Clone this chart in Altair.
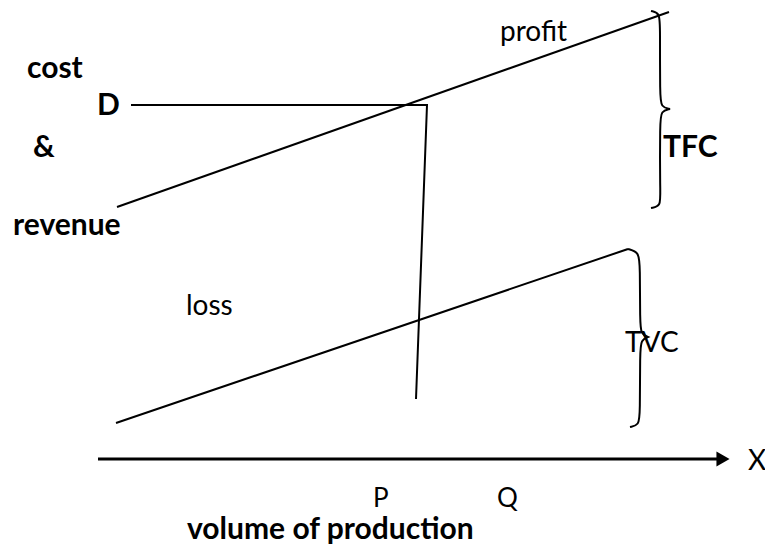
import altair as alt
import pandas as pd

# Diagram coordinates (x to the right, y downward)
# Upper (total cost / revenue) line
upper_x = [117, 669]
upper_y = [207, 12]
# D level and the drop line
d_x = [131, 427, 416]
d_y = [105, 105, 399]
# Lower (variable cost) line
lower_x = [116, 628]
lower_y = [423, 249]
# Braces (control points)
tfc_x = [651, 660, 660, 660, 661, 670, 670, 670, 661, 660, 660, 661, 651]
tfc_y = [11, 13, 28, 96, 107, 109, 109, 109, 111, 122, 192, 206, 208]
tvc_x = [628, 639, 640, 640, 641, 648, 648, 648, 641, 640, 640, 639, 630]
tvc_y = [249, 252, 266, 322, 334, 337, 337, 337, 340, 352, 414, 425, 427]
# Horizontal axis with arrow
axis_x = [98, 720]
axis_y = [459, 459]
arrow_x = [723]
arrow_y = [459]

bold_labels = ["cost", "D", "&", "revenue", "TFC", "volume of production"]
bold_x = [27, 97, 33, 13, 663, 187]
bold_y = [78, 115, 157, 235, 157, 539]

normal_labels = ["profit", "loss", "TVC", "X"]
normal_x = [500, 186, 625, 748]
normal_y = [41, 315, 352, 470]

pq_labels = ["P", "Q"]
pq_x = [373, 497]
pq_y = [507, 507]

def path(name, xs, ys):
    return pd.DataFrame({"path": name, "x": xs, "y": ys, "o": list(range(len(xs)))})

lines_df = pd.concat([
    path("upper", upper_x, upper_y),
    path("d", d_x, d_y),
    path("lower", lower_x, lower_y),
])
braces_df = pd.concat([
    path("tfc", tfc_x, tfc_y),
    path("tvc", tvc_x, tvc_y),
])
axis_df = path("axis", axis_x, axis_y)
arrow_df = pd.DataFrame({"x": arrow_x, "y": arrow_y})
bold_df = pd.DataFrame({"t": bold_labels, "x": bold_x, "y": bold_y})
normal_df = pd.DataFrame({"t": normal_labels, "x": normal_x, "y": normal_y})
pq_df = pd.DataFrame({"t": pq_labels, "x": pq_x, "y": pq_y})

X = alt.X("x:Q", scale=alt.Scale(domain=[8, 765], nice=False, zero=False), axis=None)
Y = alt.Y("y:Q", scale=alt.Scale(domain=[8, 544], nice=False, zero=False, reverse=True), axis=None)

lines = alt.Chart(lines_df).mark_line(color="black", strokeWidth=2).encode(
    x=X, y=Y, detail="path:N", order="o:Q")
braces = alt.Chart(braces_df).mark_line(color="black", strokeWidth=2, interpolate="basis").encode(
    x=X, y=Y, detail="path:N", order="o:Q")
axis_line = alt.Chart(axis_df).mark_line(color="black", strokeWidth=3).encode(
    x=X, y=Y, order="o:Q")
arrow = alt.Chart(arrow_df).mark_point(shape="triangle-right", filled=True, color="black",
                                       size=230, opacity=1).encode(x=X, y=Y)
bold_text = alt.Chart(bold_df).mark_text(align="left", baseline="alphabetic", font="Lato",
                                         fontWeight="bold", fontSize=30, color="black").encode(
    x=X, y=Y, text="t:N")
normal_text = alt.Chart(normal_df).mark_text(align="left", baseline="alphabetic", font="Lato",
                                             fontSize=28, color="black").encode(
    x=X, y=Y, text="t:N")
pq_text = alt.Chart(pq_df).mark_text(align="left", baseline="alphabetic", font="Lato",
                                     fontSize=26, color="black").encode(
    x=X, y=Y, text="t:N")

chart = alt.layer(lines, braces, axis_line, arrow, bold_text, normal_text, pq_text).properties(
    width=757, height=536, autosize=alt.AutoSizeParams(type="none"), padding=0,
    background="white"
).configure_view(stroke=None)

chart.save("out.html", embed_options={"renderer": "svg", "actions": False})
